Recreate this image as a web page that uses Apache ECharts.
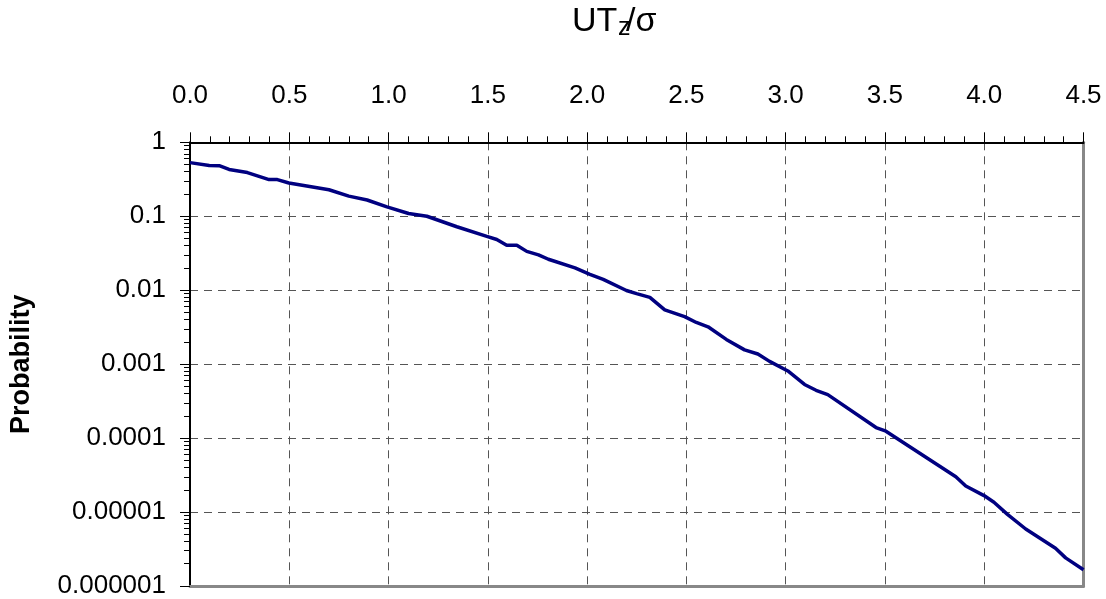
<!DOCTYPE html>
<html><head><meta charset="utf-8">
<script src="https://cdn.jsdelivr.net/npm/echarts@6/dist/echarts.min.js"></script>
<style>html,body{margin:0;padding:0;background:#fff}#c{width:1106px;height:599px}</style>
</head><body><div id="c"></div>
<script>
// UT_z/sigma values
const xValues = [0, 0.097, 0.147, 0.197, 0.289, 0.398, 0.44, 0.498, 0.70, 0.80, 0.892, 0.992, 1.101, 1.193,
  1.344, 1.495, 1.545, 1.595, 1.646, 1.696, 1.755, 1.805, 1.939, 2.014, 2.081, 2.198, 2.249, 2.316, 2.391,
  2.491, 2.55, 2.609, 2.701, 2.793, 2.86, 2.919, 3.011, 3.095, 3.153, 3.212, 3.455, 3.505, 3.857, 3.907,
  3.999, 4.049, 4.117, 4.209, 4.359, 4.41, 4.5];
// Probability values
const probValues = [0.531, 0.487, 0.483, 0.429, 0.390, 0.313, 0.313, 0.282, 0.228, 0.187, 0.166, 0.134, 0.109, 0.100,
  0.0721, 0.0535, 0.0485, 0.0406, 0.0406, 0.0335, 0.0301, 0.0262, 0.0200, 0.0164, 0.0140, 0.0099, 0.00898, 0.00801, 0.00541,
  0.00439, 0.00366, 0.00320, 0.00216, 0.00156, 0.00137, 0.00109, 0.000809, 0.000531, 0.000443, 0.000387, 0.000139, 0.000124, 3.01e-5, 2.25e-5,
  1.67e-5, 1.36e-5, 9.3e-6, 5.9e-6, 3.24e-6, 2.40e-6, 1.66e-6];
// Tick labels
const xTickLabels = ['0.0','0.5','1.0','1.5','2.0','2.5','3.0','3.5','4.0','4.5'];
const yTickValues = [1e-6, 1e-5, 1e-4, 1e-3, 1e-2, 1e-1, 1];
const yTickLabels = ['0.000001','0.00001','0.0001','0.001','0.01','0.1','1'];

const yMinorTickValues = [];
for (let e = -6; e < 0; e++) {
  for (let m = 2; m <= 9; m++) yMinorTickValues.push(+(m * Math.pow(10, e)).toPrecision(3));
}

const FONT = '"Liberation Sans", Arial, sans-serif';
const chart = echarts.init(document.getElementById('c'));
const seriesData = xValues.map((x, i) => [x, probValues[i]]);

chart.setOption({
  animation: false,
  backgroundColor: '#fff',
  grid: { left: 187.5, right: 22.5, top: 142.3, bottom: 8.3, containLabel: false },
  graphic: [
    { type: 'text', left: 572, top: 5, style: { text: 'UT', font: '34px ' + FONT, fill: '#000' } },
    { type: 'text', left: 618, top: 16, style: { text: 'z', font: '25px ' + FONT, fill: '#000' } },
    { type: 'text', left: 626, top: 5, style: { text: '/σ', font: '34px ' + FONT, fill: '#000' } }
  ],
  xAxis: [
    {
      type: 'value', position: 'top', min: 0, max: 4.5, interval: 0.5,
      axisLine: { show: true, onZero: false, lineStyle: { color: '#000', width: 2 } },
      axisTick: { show: true, length: 10, lineStyle: { color: '#000', width: 1 } },
      minorTick: { show: true, splitNumber: 5, length: 6, lineStyle: { color: '#000', width: 1 } },
      axisLabel: {
        fontSize: 26, fontFamily: FONT, color: '#000', margin: 33,
        formatter: v => xTickLabels[Math.round(v / 0.5)]
      },
      splitLine: { show: true, lineStyle: { type: [8, 6], color: '#555', width: 1 } }
    },
    {
      type: 'value', position: 'bottom', min: 0, max: 4.5, interval: 0.5,
      axisLine: { show: true, onZero: false, lineStyle: { color: '#888', width: 3 } },
      axisTick: { show: false }, axisLabel: { show: false }, splitLine: { show: false }
    }
  ],
  yAxis: [
    {
      type: 'log', logBase: 10, min: 1e-6, max: 1, position: 'left',
      axisLine: { show: true, onZero: false, lineStyle: { color: '#000', width: 2 } },
      axisTick: { show: true, length: 10, lineStyle: { color: '#000', width: 1 } },
      axisLabel: {
        fontSize: 26, fontFamily: FONT, color: '#000', margin: 24,
        formatter: v => {
          const i = yTickValues.findIndex(t => Math.abs(Math.log10(t) - Math.log10(v)) < 1e-6);
          return i >= 0 ? yTickLabels[i] : '';
        }
      },
      splitLine: { show: true, lineStyle: { type: [8, 6], color: '#555', width: 1 } },
      name: 'Probability', nameLocation: 'middle', nameRotate: 90, nameGap: 155,
      nameTextStyle: { fontSize: 27, fontWeight: 'bold', fontFamily: FONT, color: '#000' }
    },
    {
      type: 'log', logBase: 10, min: 1e-6, max: 1, position: 'left',
      axisLine: { show: false },
      axisTick: { show: true, length: 6, customValues: yMinorTickValues, lineStyle: { color: '#000', width: 1 } },
      axisLabel: { show: false }, splitLine: { show: false }
    },
    {
      type: 'log', logBase: 10, min: 1e-6, max: 1, position: 'right',
      axisLine: { show: true, onZero: false, lineStyle: { color: '#888', width: 3 } },
      axisTick: { show: false }, axisLabel: { show: false }, splitLine: { show: false }
    }
  ],
  series: [{
    type: 'line', xAxisIndex: 0, yAxisIndex: 0, data: seriesData,
    showSymbol: false, symbol: 'none', smooth: false,
    lineStyle: { color: '#000080', width: 3.5 }
  }]
});
</script></body></html>
